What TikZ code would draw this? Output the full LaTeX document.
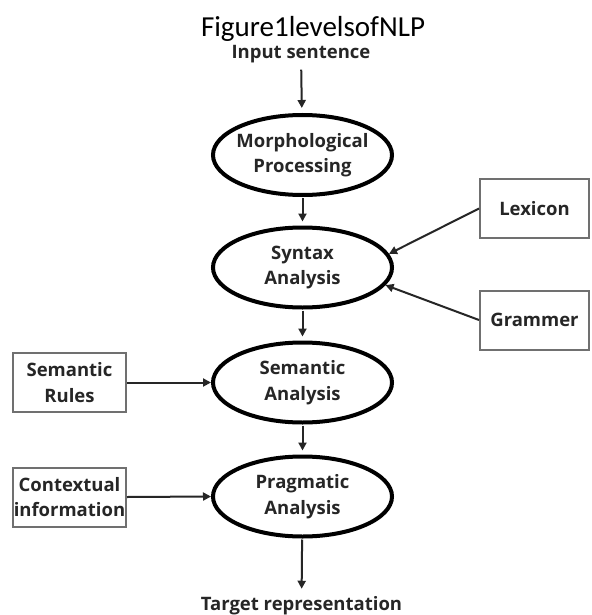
\documentclass[tikz,border=0pt]{standalone}
\usepackage{fontspec}
\newfontfamily\osans{Open Sans}[BoldFont={Open Sans Bold}]
\newfontfamily\carl{Carlito}
\usetikzlibrary{shapes.geometric,arrows.meta}
\definecolor{txt}{HTML}{262626}
\definecolor{boxgray}{HTML}{707070}
\tikzset{
  stage/.style={ellipse, draw=black, line width=4pt, minimum width=179pt, minimum height=80pt, inner sep=0pt},
  lbl/.style={font=\osans\bfseries\fontsize{18.5}{25.5}\selectfont, align=center, text=txt, inner sep=0pt},
  srcbox/.style={rectangle, draw=boxgray, line width=2pt, minimum height=59pt, inner sep=0pt,
                 font=\osans\bfseries\fontsize{18.5}{25.5}\selectfont, align=center, text=txt},
  link/.style={line width=2pt, draw=txt, -{Triangle[length=8pt,width=8pt]}}
}
\begin{document}
\begin{tikzpicture}[x=1pt,y=-1pt]
\useasboundingbox (0,0) rectangle (591,615);
\fill[white] (0,0) rectangle (591,615);
% title
\node[font=\carl\fontsize{29}{34}\selectfont, anchor=base, inner sep=0pt] (title) at (313,37) {Figure1levelsofNLP};
% input / output
\node[lbl, anchor=base] (inp) at (301,59) {Input sentence};
\node[lbl, anchor=base] (tgt) at (301.5,610) {Target representation};
% stages
\node[stage, label={[lbl]center:{Morphological\\Processing}}] (morph) at (302.5,155) {};
\node[stage, label={[lbl]center:{Syntax\\Analysis}}] (syn) at (302.5,267.5) {};
\node[stage, label={[lbl]center:{Semantic\\Analysis}}] (sem) at (302.5,382.5) {};
\node[stage, label={[lbl]center:{Pragmatic\\Analysis}}] (prag) at (302.5,496.5) {};
% sources
\node[srcbox, minimum width=113pt] (rules) at (69.5,382.5) {Semantic\\Rules};
\node[srcbox, minimum width=113pt] (ctx) at (69.5,497) {Contextual\\information};
\node[srcbox, minimum width=109pt] (lex) at (534.5,208.5) {Lexicon};
\node[srcbox, minimum width=109pt] (gram) at (534.5,320) {Grammer};
% connectors
\draw[link, shorten <=6pt, shorten >=5pt] (inp) -- (morph);
\draw[link, shorten <=1pt, shorten >=4pt] (morph) -- (syn);
\draw[link, shorten <=1pt, shorten >=4pt] (syn) -- (sem);
\draw[link, shorten <=1pt, shorten >=4pt] (sem) -- (prag);
\draw[link, shorten <=1pt, shorten >=7pt] (prag) -- (tgt);
\draw[link] (lex.west) -- (syn.9);
\draw[link] (gram.west) -- (syn.-12);
\draw[link] (rules.east) -- (sem.west);
\draw[link] (ctx.east) -- (prag.west);
\end{tikzpicture}
\end{document}
